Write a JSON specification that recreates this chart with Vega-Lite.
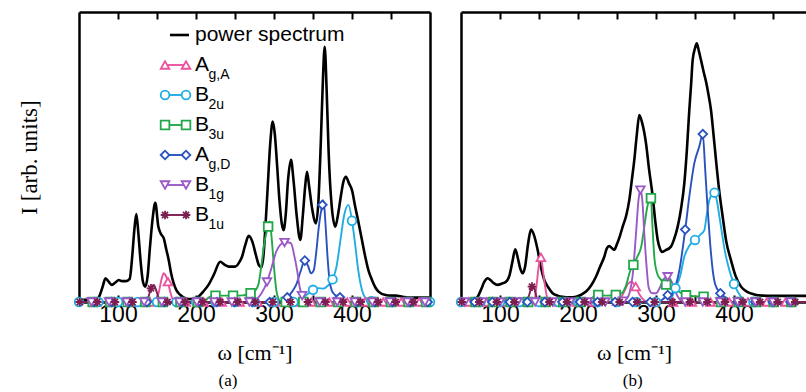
{
"$schema":"https://vega.github.io/schema/vega-lite/v6.json",
"background":"white",
"padding":{"left":18,"top":11,"right":0,"bottom":0},
"spacing":31,
"bounds":"flush",
"config":{"view":{"stroke":null},"axis":{"domainColor":"black","domainWidth":2.5,"tickColor":"black","tickWidth":2,"grid":false,"labelFont":"Liberation Sans","labelFontSize":23,"labelColor":"black","titleFont":"Liberation Serif","titleFontSize":22,"titleFontWeight":"normal","titleColor":"black"}},
"datasets":{
"legend":[
{"series":"power spectrum","main":"power spectrum","sub":""},
{"series":"Ag,A","main":"A","sub":"g,A"},
{"series":"B2u","main":"B","sub":"2u"},
{"series":"B3u","main":"B","sub":"3u"},
{"series":"Ag,D","main":"A","sub":"g,D"},
{"series":"B1g","main":"B","sub":"1g"},
{"series":"B1u","main":"B","sub":"1u"}],
"lines_a":[
{"series":"power spectrum","w":50,"I":0.8},{"series":"power spectrum","w":60,"I":0.8},{"series":"power spectrum","w":70,"I":0.9},{"series":"power spectrum","w":75,"I":1.5},{"series":"power spectrum","w":80,"I":5},{"series":"power spectrum","w":84,"I":8.2},{"series":"power spectrum","w":88,"I":7},{"series":"power spectrum","w":92,"I":5.9},{"series":"power spectrum","w":97,"I":6.8},{"series":"power spectrum","w":101,"I":7.6},{"series":"power spectrum","w":105,"I":7.2},{"series":"power spectrum","w":110,"I":7.2},{"series":"power spectrum","w":115,"I":8},{"series":"power spectrum","w":118,"I":15},{"series":"power spectrum","w":121,"I":25},{"series":"power spectrum","w":123.5,"I":30.3},{"series":"power spectrum","w":126,"I":24},{"series":"power spectrum","w":129,"I":14},{"series":"power spectrum","w":132,"I":7},{"series":"power spectrum","w":135,"I":5.3},{"series":"power spectrum","w":138,"I":9},{"series":"power spectrum","w":141,"I":19},{"series":"power spectrum","w":144.5,"I":29},{"series":"power spectrum","w":147.8,"I":34.2},{"series":"power spectrum","w":151.7,"I":26},{"series":"power spectrum","w":155,"I":23.5},{"series":"power spectrum","w":158.6,"I":22},{"series":"power spectrum","w":162,"I":18},{"series":"power spectrum","w":165,"I":14.5},{"series":"power spectrum","w":168,"I":10},{"series":"power spectrum","w":171.4,"I":6.4},{"series":"power spectrum","w":175,"I":4},{"series":"power spectrum","w":180,"I":2.4},{"series":"power spectrum","w":186,"I":1.3},{"series":"power spectrum","w":191,"I":1},{"series":"power spectrum","w":197,"I":1.2},{"series":"power spectrum","w":203,"I":1.8},{"series":"power spectrum","w":209,"I":3.5},{"series":"power spectrum","w":216,"I":5.9},{"series":"power spectrum","w":223,"I":9.5},{"series":"power spectrum","w":231,"I":13.9},{"series":"power spectrum","w":237,"I":12.8},{"series":"power spectrum","w":242,"I":12.2},{"series":"power spectrum","w":250,"I":12.2},{"series":"power spectrum","w":255,"I":13.5},{"series":"power spectrum","w":259,"I":15.6},{"series":"power spectrum","w":263,"I":19.5},{"series":"power spectrum","w":267.6,"I":22.8},{"series":"power spectrum","w":272,"I":21},{"series":"power spectrum","w":277,"I":16},{"series":"power spectrum","w":281,"I":12.5},{"series":"power spectrum","w":284,"I":12},{"series":"power spectrum","w":286.5,"I":16},{"series":"power spectrum","w":289,"I":26},{"series":"power spectrum","w":292,"I":40},{"series":"power spectrum","w":295,"I":54},{"series":"power spectrum","w":298.3,"I":62.2},{"series":"power spectrum","w":301,"I":58},{"series":"power spectrum","w":304,"I":47},{"series":"power spectrum","w":307,"I":35},{"series":"power spectrum","w":310,"I":27},{"series":"power spectrum","w":312.4,"I":24.8},{"series":"power spectrum","w":315,"I":30},{"series":"power spectrum","w":318,"I":42},{"series":"power spectrum","w":321.8,"I":49},{"series":"power spectrum","w":325,"I":42},{"series":"power spectrum","w":329,"I":30},{"series":"power spectrum","w":333.7,"I":21.4},{"series":"power spectrum","w":337,"I":30},{"series":"power spectrum","w":340,"I":40},{"series":"power spectrum","w":342.3,"I":44.9},{"series":"power spectrum","w":345,"I":40},{"series":"power spectrum","w":349,"I":32},{"series":"power spectrum","w":353.8,"I":27.1},{"series":"power spectrum","w":357,"I":35},{"series":"power spectrum","w":360,"I":55},{"series":"power spectrum","w":362.5,"I":75},{"series":"power spectrum","w":365,"I":88},{"series":"power spectrum","w":367.5,"I":73},{"series":"power spectrum","w":370,"I":52},{"series":"power spectrum","w":374,"I":33},{"series":"power spectrum","w":378.6,"I":26},{"series":"power spectrum","w":382,"I":30},{"series":"power spectrum","w":386,"I":37},{"series":"power spectrum","w":389,"I":41.5},{"series":"power spectrum","w":392.3,"I":43.2},{"series":"power spectrum","w":396,"I":41},{"series":"power spectrum","w":400,"I":38.6},{"series":"power spectrum","w":404,"I":33},{"series":"power spectrum","w":408.6,"I":27.1},{"series":"power spectrum","w":413,"I":21},{"series":"power spectrum","w":417,"I":15.6},{"series":"power spectrum","w":421,"I":11},{"series":"power spectrum","w":425.6,"I":7.6},{"series":"power spectrum","w":430,"I":5},{"series":"power spectrum","w":434,"I":3.6},{"series":"power spectrum","w":443,"I":2.4},{"series":"power spectrum","w":450,"I":2.2},{"series":"power spectrum","w":456,"I":2.2},{"series":"power spectrum","w":465,"I":1.8},{"series":"power spectrum","w":473,"I":1.5},{"series":"power spectrum","w":485,"I":1.5},{"series":"power spectrum","w":500,"I":1.5},
{"series":"Ag,A","w":50,"I":0},{"series":"Ag,A","w":140,"I":0},{"series":"Ag,A","w":148,"I":0.5},{"series":"Ag,A","w":152,"I":3},{"series":"Ag,A","w":155.5,"I":7.5},{"series":"Ag,A","w":158.6,"I":9.9},{"series":"Ag,A","w":161,"I":9.2},{"series":"Ag,A","w":164,"I":7},{"series":"Ag,A","w":167,"I":3.5},{"series":"Ag,A","w":170,"I":1},{"series":"Ag,A","w":174,"I":0},{"series":"Ag,A","w":500,"I":0},
{"series":"B2u","w":50,"I":0},{"series":"B2u","w":325,"I":0},{"series":"B2u","w":335,"I":1},{"series":"B2u","w":342,"I":2.5},{"series":"B2u","w":350,"I":4.2},{"series":"B2u","w":357,"I":4.8},{"series":"B2u","w":363,"I":4.6},{"series":"B2u","w":369,"I":5.6},{"series":"B2u","w":375,"I":7.8},{"series":"B2u","w":380,"I":12},{"series":"B2u","w":385,"I":21},{"series":"B2u","w":390,"I":30},{"series":"B2u","w":395.5,"I":33.5},{"series":"B2u","w":400,"I":28},{"series":"B2u","w":404,"I":20},{"series":"B2u","w":408,"I":11},{"series":"B2u","w":412,"I":5},{"series":"B2u","w":417,"I":1.5},{"series":"B2u","w":425,"I":0.3},{"series":"B2u","w":432,"I":0},{"series":"B2u","w":500,"I":0},
{"series":"B3u","w":50,"I":0},{"series":"B3u","w":210,"I":0},{"series":"B3u","w":216,"I":1.5},{"series":"B3u","w":222,"I":2.1},{"series":"B3u","w":225,"I":2.2},{"series":"B3u","w":247.5,"I":2.2},{"series":"B3u","w":260,"I":2.3},{"series":"B3u","w":265,"I":2.6},{"series":"B3u","w":270,"I":3},{"series":"B3u","w":276,"I":4},{"series":"B3u","w":280,"I":6},{"series":"B3u","w":284,"I":13},{"series":"B3u","w":288,"I":21},{"series":"B3u","w":292.5,"I":26},{"series":"B3u","w":294.5,"I":27.8},{"series":"B3u","w":297,"I":22},{"series":"B3u","w":300,"I":12},{"series":"B3u","w":303,"I":4},{"series":"B3u","w":306,"I":1},{"series":"B3u","w":310,"I":0},{"series":"B3u","w":500,"I":0},
{"series":"Ag,D","w":50,"I":0},{"series":"Ag,D","w":305,"I":0},{"series":"Ag,D","w":311,"I":0.5},{"series":"Ag,D","w":317,"I":1.6},{"series":"Ag,D","w":323,"I":3.5},{"series":"Ag,D","w":328.5,"I":6},{"series":"Ag,D","w":334,"I":10.5},{"series":"Ag,D","w":339.5,"I":14.3},{"series":"Ag,D","w":343.5,"I":12.5},{"series":"Ag,D","w":347.5,"I":9.9},{"series":"Ag,D","w":351,"I":11},{"series":"Ag,D","w":354,"I":16.8},{"series":"Ag,D","w":357.5,"I":26},{"series":"Ag,D","w":362,"I":33.5},{"series":"Ag,D","w":363.5,"I":35},{"series":"Ag,D","w":366,"I":27},{"series":"Ag,D","w":368.5,"I":16},{"series":"Ag,D","w":371,"I":8},{"series":"Ag,D","w":374,"I":4},{"series":"Ag,D","w":378,"I":2.5},{"series":"Ag,D","w":384.5,"I":1.6},{"series":"Ag,D","w":390,"I":0.5},{"series":"Ag,D","w":396,"I":0},{"series":"Ag,D","w":500,"I":0},
{"series":"B1g","w":50,"I":0},{"series":"B1g","w":270,"I":0},{"series":"B1g","w":278,"I":1},{"series":"B1g","w":284,"I":3},{"series":"B1g","w":291,"I":6.9},{"series":"B1g","w":297,"I":12},{"series":"B1g","w":303,"I":17.5},{"series":"B1g","w":308,"I":19.7},{"series":"B1g","w":313.5,"I":20.5},{"series":"B1g","w":319,"I":20.5},{"series":"B1g","w":322,"I":20.2},{"series":"B1g","w":326,"I":16},{"series":"B1g","w":329.6,"I":11},{"series":"B1g","w":333,"I":5},{"series":"B1g","w":336,"I":2.2},{"series":"B1g","w":340,"I":0.5},{"series":"B1g","w":345,"I":0},{"series":"B1g","w":500,"I":0},
{"series":"B1u","w":50,"I":0},{"series":"B1u","w":135,"I":0},{"series":"B1u","w":139,"I":1.8},{"series":"B1u","w":142.3,"I":4.7},{"series":"B1u","w":145.8,"I":5.9},{"series":"B1u","w":149,"I":4},{"series":"B1u","w":152,"I":1.5},{"series":"B1u","w":156,"I":0},{"series":"B1u","w":500,"I":0}],
"marks_a":[
{"series":"Ag,A","w":72,"I":0},{"series":"Ag,A","w":95,"I":0},{"series":"Ag,A","w":118,"I":0},{"series":"Ag,A","w":141,"I":0},{"series":"Ag,A","w":164,"I":7},{"series":"Ag,A","w":187,"I":0},{"series":"Ag,A","w":210,"I":0},{"series":"Ag,A","w":233,"I":0},{"series":"Ag,A","w":256,"I":0},{"series":"Ag,A","w":279,"I":0},{"series":"Ag,A","w":302,"I":0},{"series":"Ag,A","w":325,"I":0},{"series":"Ag,A","w":348,"I":0},{"series":"Ag,A","w":371,"I":0},{"series":"Ag,A","w":394,"I":0},{"series":"Ag,A","w":417,"I":0},{"series":"Ag,A","w":440,"I":0},{"series":"Ag,A","w":463,"I":0},{"series":"Ag,A","w":486,"I":0},
{"series":"B2u","w":50,"I":0},{"series":"B2u","w":75,"I":0},{"series":"B2u","w":100,"I":0},{"series":"B2u","w":125,"I":0},{"series":"B2u","w":150,"I":0},{"series":"B2u","w":175,"I":0},{"series":"B2u","w":200,"I":0},{"series":"B2u","w":225,"I":0},{"series":"B2u","w":250,"I":0},{"series":"B2u","w":275,"I":0},{"series":"B2u","w":300,"I":0},{"series":"B2u","w":325,"I":0},{"series":"B2u","w":350,"I":4.2},{"series":"B2u","w":375,"I":7.8},{"series":"B2u","w":400,"I":28},{"series":"B2u","w":425,"I":0.3},{"series":"B2u","w":450,"I":0},{"series":"B2u","w":475,"I":0},{"series":"B2u","w":500,"I":0},
{"series":"B3u","w":67.5,"I":0},{"series":"B3u","w":90,"I":0},{"series":"B3u","w":112.5,"I":0},{"series":"B3u","w":135,"I":0},{"series":"B3u","w":157.5,"I":0},{"series":"B3u","w":180,"I":0},{"series":"B3u","w":202.5,"I":0},{"series":"B3u","w":225,"I":2.2},{"series":"B3u","w":247.5,"I":2.2},{"series":"B3u","w":270,"I":3},{"series":"B3u","w":292.5,"I":26},{"series":"B3u","w":315,"I":0},{"series":"B3u","w":337.5,"I":0},{"series":"B3u","w":360,"I":0},{"series":"B3u","w":382.5,"I":0},{"series":"B3u","w":405,"I":0},{"series":"B3u","w":427.5,"I":0},{"series":"B3u","w":450,"I":0},{"series":"B3u","w":472.5,"I":0},{"series":"B3u","w":495,"I":0},
{"series":"Ag,D","w":69.5,"I":0},{"series":"Ag,D","w":92,"I":0},{"series":"Ag,D","w":114.5,"I":0},{"series":"Ag,D","w":137,"I":0},{"series":"Ag,D","w":159.5,"I":0},{"series":"Ag,D","w":182,"I":0},{"series":"Ag,D","w":204.5,"I":0},{"series":"Ag,D","w":227,"I":0},{"series":"Ag,D","w":249.5,"I":0},{"series":"Ag,D","w":272,"I":0},{"series":"Ag,D","w":294.5,"I":0},{"series":"Ag,D","w":317,"I":1.6},{"series":"Ag,D","w":339.5,"I":14.3},{"series":"Ag,D","w":362,"I":33.5},{"series":"Ag,D","w":384.5,"I":1.6},{"series":"Ag,D","w":407,"I":0},{"series":"Ag,D","w":429.5,"I":0},{"series":"Ag,D","w":452,"I":0},{"series":"Ag,D","w":474.5,"I":0},{"series":"Ag,D","w":497,"I":0},
{"series":"B1g","w":66,"I":0},{"series":"B1g","w":88.5,"I":0},{"series":"B1g","w":111,"I":0},{"series":"B1g","w":133.5,"I":0},{"series":"B1g","w":156,"I":0},{"series":"B1g","w":178.5,"I":0},{"series":"B1g","w":201,"I":0},{"series":"B1g","w":223.5,"I":0},{"series":"B1g","w":246,"I":0},{"series":"B1g","w":268.5,"I":0},{"series":"B1g","w":291,"I":6.9},{"series":"B1g","w":313.5,"I":20.5},{"series":"B1g","w":336,"I":2.2},{"series":"B1g","w":358.5,"I":0},{"series":"B1g","w":381,"I":0},{"series":"B1g","w":403.5,"I":0},{"series":"B1g","w":426,"I":0},{"series":"B1g","w":448.5,"I":0},{"series":"B1g","w":471,"I":0},{"series":"B1g","w":493.5,"I":0},
{"series":"B1u","w":51,"I":0},{"series":"B1u","w":73.5,"I":0},{"series":"B1u","w":96,"I":0},{"series":"B1u","w":118.5,"I":0},{"series":"B1u","w":142.3,"I":4.7},{"series":"B1u","w":163.5,"I":0},{"series":"B1u","w":186,"I":0},{"series":"B1u","w":208.5,"I":0},{"series":"B1u","w":231,"I":0},{"series":"B1u","w":253.5,"I":0},{"series":"B1u","w":276,"I":0},{"series":"B1u","w":298.5,"I":0},{"series":"B1u","w":321,"I":0},{"series":"B1u","w":343.5,"I":0},{"series":"B1u","w":366,"I":0},{"series":"B1u","w":388.5,"I":0},{"series":"B1u","w":411,"I":0},{"series":"B1u","w":433.5,"I":0},{"series":"B1u","w":456,"I":0},{"series":"B1u","w":478.5,"I":0}],
"lines_b":[
{"series":"power spectrum","w":50,"I":0.8},{"series":"power spectrum","w":60,"I":0.8},{"series":"power spectrum","w":68,"I":1},{"series":"power spectrum","w":71.4,"I":1.8},{"series":"power spectrum","w":76,"I":4.5},{"series":"power spectrum","w":80,"I":7},{"series":"power spectrum","w":84.2,"I":8.2},{"series":"power spectrum","w":88,"I":7.5},{"series":"power spectrum","w":92,"I":6.5},{"series":"power spectrum","w":97,"I":5.9},{"series":"power spectrum","w":102,"I":6.3},{"series":"power spectrum","w":107.7,"I":7},{"series":"power spectrum","w":112,"I":9},{"series":"power spectrum","w":116,"I":14},{"series":"power spectrum","w":119.6,"I":18.2},{"series":"power spectrum","w":123,"I":15},{"series":"power spectrum","w":126,"I":11.5},{"series":"power spectrum","w":129,"I":9.9},{"series":"power spectrum","w":132,"I":12},{"series":"power spectrum","w":136,"I":20},{"series":"power spectrum","w":139.7,"I":25},{"series":"power spectrum","w":143,"I":23.5},{"series":"power spectrum","w":148.3,"I":17.9},{"series":"power spectrum","w":152,"I":12.5},{"series":"power spectrum","w":156.8,"I":7.6},{"series":"power spectrum","w":162,"I":5},{"series":"power spectrum","w":167.5,"I":3},{"series":"power spectrum","w":174,"I":2.2},{"series":"power spectrum","w":180,"I":1.8},{"series":"power spectrum","w":190,"I":1.6},{"series":"power spectrum","w":197.4,"I":1.8},{"series":"power spectrum","w":204,"I":2.5},{"series":"power spectrum","w":210.3,"I":3.6},{"series":"power spectrum","w":217,"I":5.8},{"series":"power spectrum","w":223,"I":8.7},{"series":"power spectrum","w":228,"I":12},{"series":"power spectrum","w":233.7,"I":15.6},{"series":"power spectrum","w":237,"I":18.5},{"series":"power spectrum","w":240,"I":19.3},{"series":"power spectrum","w":243,"I":18.7},{"series":"power spectrum","w":246.4,"I":18},{"series":"power spectrum","w":250,"I":20},{"series":"power spectrum","w":254,"I":23},{"series":"power spectrum","w":257.3,"I":26},{"series":"power spectrum","w":262,"I":30},{"series":"power spectrum","w":265.8,"I":35.2},{"series":"power spectrum","w":269,"I":42},{"series":"power spectrum","w":272.2,"I":49},{"series":"power spectrum","w":275.5,"I":58},{"series":"power spectrum","w":278.6,"I":64.5},{"series":"power spectrum","w":282,"I":62},{"series":"power spectrum","w":287.2,"I":54.7},{"series":"power spectrum","w":291,"I":46},{"series":"power spectrum","w":295.8,"I":36.3},{"series":"power spectrum","w":299,"I":28},{"series":"power spectrum","w":302.2,"I":21.4},{"series":"power spectrum","w":305,"I":18.5},{"series":"power spectrum","w":307.3,"I":17.3},{"series":"power spectrum","w":312,"I":17.8},{"series":"power spectrum","w":319.2,"I":19.1},{"series":"power spectrum","w":323,"I":21.5},{"series":"power spectrum","w":327.8,"I":26},{"series":"power spectrum","w":332,"I":32},{"series":"power spectrum","w":336.3,"I":40.9},{"series":"power spectrum","w":339.5,"I":52},{"series":"power spectrum","w":342.7,"I":66.2},{"series":"power spectrum","w":345,"I":75},{"series":"power spectrum","w":347,"I":83.4},{"series":"power spectrum","w":350,"I":87.5},{"series":"power spectrum","w":352.2,"I":89.2},{"series":"power spectrum","w":355,"I":86.5},{"series":"power spectrum","w":357.7,"I":83.4},{"series":"power spectrum","w":361,"I":79.5},{"series":"power spectrum","w":364.1,"I":76},{"series":"power spectrum","w":367,"I":72},{"series":"power spectrum","w":370.5,"I":66.2},{"series":"power spectrum","w":374,"I":57},{"series":"power spectrum","w":376.9,"I":49},{"series":"power spectrum","w":381,"I":38.5},{"series":"power spectrum","w":385.5,"I":29.4},{"series":"power spectrum","w":390,"I":21},{"series":"power spectrum","w":396,"I":14.5},{"series":"power spectrum","w":402,"I":9},{"series":"power spectrum","w":409,"I":5.3},{"series":"power spectrum","w":417,"I":3.5},{"series":"power spectrum","w":426,"I":2.6},{"series":"power spectrum","w":437,"I":2.2},{"series":"power spectrum","w":447.4,"I":2.1},{"series":"power spectrum","w":470,"I":2.1},{"series":"power spectrum","w":493.6,"I":2.1},
{"series":"Ag,A","w":50,"I":0},{"series":"Ag,A","w":141,"I":0},{"series":"Ag,A","w":144.5,"I":1},{"series":"Ag,A","w":147,"I":6},{"series":"Ag,A","w":149.5,"I":12},{"series":"Ag,A","w":152.5,"I":15.4},{"series":"Ag,A","w":155,"I":11},{"series":"Ag,A","w":157.5,"I":6},{"series":"Ag,A","w":160,"I":2},{"series":"Ag,A","w":163,"I":0.3},{"series":"Ag,A","w":166,"I":0},{"series":"Ag,A","w":240,"I":0},{"series":"Ag,A","w":250,"I":0.3},{"series":"Ag,A","w":255,"I":1.5},{"series":"Ag,A","w":260,"I":4},{"series":"Ag,A","w":264,"I":6.2},{"series":"Ag,A","w":268,"I":7},{"series":"Ag,A","w":274,"I":5.3},{"series":"Ag,A","w":279,"I":2.5},{"series":"Ag,A","w":284,"I":0.8},{"series":"Ag,A","w":290,"I":0},{"series":"Ag,A","w":493.6,"I":0},
{"series":"B2u","w":50,"I":0},{"series":"B2u","w":315,"I":0},{"series":"B2u","w":320,"I":1.5},{"series":"B2u","w":325,"I":4.8},{"series":"B2u","w":331,"I":9},{"series":"B2u","w":336.3,"I":15.6},{"series":"B2u","w":343,"I":19.5},{"series":"B2u","w":350,"I":21.4},{"series":"B2u","w":356,"I":23},{"series":"B2u","w":362,"I":24.8},{"series":"B2u","w":365,"I":30},{"series":"B2u","w":368.4,"I":35.2},{"series":"B2u","w":372,"I":37.2},{"series":"B2u","w":375,"I":37.7},{"series":"B2u","w":378,"I":35},{"series":"B2u","w":381,"I":30},{"series":"B2u","w":383.3,"I":26},{"series":"B2u","w":388,"I":18},{"series":"B2u","w":394,"I":11},{"series":"B2u","w":400,"I":6.2},{"series":"B2u","w":405,"I":3.5},{"series":"B2u","w":410,"I":1.5},{"series":"B2u","w":418,"I":0.3},{"series":"B2u","w":425,"I":0},{"series":"B2u","w":493.6,"I":0},
{"series":"B3u","w":50,"I":0},{"series":"B3u","w":212,"I":0},{"series":"B3u","w":218,"I":1.5},{"series":"B3u","w":226,"I":2.4},{"series":"B3u","w":238,"I":2.2},{"series":"B3u","w":248.5,"I":2.4},{"series":"B3u","w":256,"I":3},{"series":"B3u","w":262,"I":6},{"series":"B3u","w":266,"I":10},{"series":"B3u","w":271,"I":12.8},{"series":"B3u","w":276,"I":15.6},{"series":"B3u","w":281,"I":19},{"series":"B3u","w":285,"I":26},{"series":"B3u","w":289,"I":33},{"series":"B3u","w":293.5,"I":35.8},{"series":"B3u","w":295.5,"I":26},{"series":"B3u","w":298,"I":15},{"series":"B3u","w":302,"I":9.5},{"series":"B3u","w":306,"I":7.8},{"series":"B3u","w":313,"I":6},{"series":"B3u","w":320,"I":4.5},{"series":"B3u","w":328,"I":3.8},{"series":"B3u","w":333,"I":3},{"series":"B3u","w":338.5,"I":2.3},{"series":"B3u","w":348,"I":2},{"series":"B3u","w":361,"I":1.8},{"series":"B3u","w":367,"I":1},{"series":"B3u","w":373,"I":0},{"series":"B3u","w":493.6,"I":0},
{"series":"Ag,D","w":50,"I":0},{"series":"Ag,D","w":300,"I":0},{"series":"Ag,D","w":308,"I":0.8},{"series":"Ag,D","w":315,"I":2.4},{"series":"Ag,D","w":320,"I":2.8},{"series":"Ag,D","w":325,"I":5.5},{"series":"Ag,D","w":330,"I":11},{"series":"Ag,D","w":337.5,"I":25},{"series":"Ag,D","w":342.7,"I":36.3},{"series":"Ag,D","w":349.1,"I":47.8},{"series":"Ag,D","w":355.5,"I":53.6},{"series":"Ag,D","w":360,"I":57.9},{"series":"Ag,D","w":363,"I":46},{"series":"Ag,D","w":366.3,"I":31.7},{"series":"Ag,D","w":369.5,"I":20},{"series":"Ag,D","w":372.7,"I":11},{"series":"Ag,D","w":376,"I":6},{"series":"Ag,D","w":382.5,"I":3},{"series":"Ag,D","w":387,"I":2},{"series":"Ag,D","w":392,"I":1.2},{"series":"Ag,D","w":398,"I":0},{"series":"Ag,D","w":493.6,"I":0},
{"series":"B1g","w":50,"I":0},{"series":"B1g","w":255,"I":0},{"series":"B1g","w":262,"I":1},{"series":"B1g","w":266,"I":3},{"series":"B1g","w":270,"I":9},{"series":"B1g","w":274.4,"I":23.7},{"series":"B1g","w":277.5,"I":35},{"series":"B1g","w":280,"I":38.6},{"series":"B1g","w":282.5,"I":35},{"series":"B1g","w":285,"I":23.7},{"series":"B1g","w":288,"I":12},{"series":"B1g","w":290.6,"I":5},{"series":"B1g","w":295,"I":3},{"series":"B1g","w":300,"I":3},{"series":"B1g","w":305,"I":5},{"series":"B1g","w":310,"I":8},{"series":"B1g","w":315,"I":8.7},{"series":"B1g","w":320,"I":7},{"series":"B1g","w":325,"I":3.5},{"series":"B1g","w":330,"I":1},{"series":"B1g","w":335,"I":0},{"series":"B1g","w":493.6,"I":0},
{"series":"B1u","w":50,"I":0},{"series":"B1u","w":134,"I":0},{"series":"B1u","w":137.5,"I":2.5},{"series":"B1u","w":141,"I":5.3},{"series":"B1u","w":143.5,"I":5},{"series":"B1u","w":146.5,"I":2},{"series":"B1u","w":150,"I":0},{"series":"B1u","w":493.6,"I":0}],
"marks_b":[
{"series":"Ag,A","w":60,"I":0},{"series":"Ag,A","w":83,"I":0},{"series":"Ag,A","w":106,"I":0},{"series":"Ag,A","w":129.5,"I":0},{"series":"Ag,A","w":152.5,"I":15.4},{"series":"Ag,A","w":175.5,"I":0},{"series":"Ag,A","w":198.5,"I":0},{"series":"Ag,A","w":221.5,"I":0},{"series":"Ag,A","w":250,"I":0.3},{"series":"Ag,A","w":274,"I":5.3},{"series":"Ag,A","w":298,"I":0},{"series":"Ag,A","w":322,"I":0},{"series":"Ag,A","w":346,"I":0},{"series":"Ag,A","w":370,"I":0},{"series":"Ag,A","w":394,"I":0},{"series":"Ag,A","w":418,"I":0},{"series":"Ag,A","w":442,"I":0},{"series":"Ag,A","w":466,"I":0},
{"series":"B2u","w":50,"I":0},{"series":"B2u","w":75,"I":0},{"series":"B2u","w":100,"I":0},{"series":"B2u","w":125,"I":0},{"series":"B2u","w":150,"I":0},{"series":"B2u","w":175,"I":0},{"series":"B2u","w":200,"I":0},{"series":"B2u","w":225,"I":0},{"series":"B2u","w":250,"I":0},{"series":"B2u","w":275,"I":0},{"series":"B2u","w":300,"I":0},{"series":"B2u","w":325,"I":4.8},{"series":"B2u","w":350,"I":21.4},{"series":"B2u","w":375,"I":37.7},{"series":"B2u","w":400,"I":6.2},{"series":"B2u","w":425,"I":0},{"series":"B2u","w":450,"I":0},{"series":"B2u","w":475,"I":0},
{"series":"B3u","w":68.5,"I":0},{"series":"B3u","w":91,"I":0},{"series":"B3u","w":113.5,"I":0},{"series":"B3u","w":136,"I":0},{"series":"B3u","w":158.5,"I":0},{"series":"B3u","w":181,"I":0},{"series":"B3u","w":203.5,"I":0},{"series":"B3u","w":226,"I":2.4},{"series":"B3u","w":248.5,"I":2.4},{"series":"B3u","w":271,"I":12.8},{"series":"B3u","w":293.5,"I":35.8},{"series":"B3u","w":313,"I":6},{"series":"B3u","w":338.5,"I":2.3},{"series":"B3u","w":361,"I":1.8},{"series":"B3u","w":383.5,"I":0},{"series":"B3u","w":406,"I":0},{"series":"B3u","w":428.5,"I":0},{"series":"B3u","w":451,"I":0},{"series":"B3u","w":473.5,"I":0},
{"series":"Ag,D","w":67.5,"I":0},{"series":"Ag,D","w":90,"I":0},{"series":"Ag,D","w":112.5,"I":0},{"series":"Ag,D","w":135,"I":0},{"series":"Ag,D","w":157.5,"I":0},{"series":"Ag,D","w":180,"I":0},{"series":"Ag,D","w":202.5,"I":0},{"series":"Ag,D","w":225,"I":0},{"series":"Ag,D","w":247.5,"I":0},{"series":"Ag,D","w":270,"I":0},{"series":"Ag,D","w":292.5,"I":0},{"series":"Ag,D","w":315,"I":2.4},{"series":"Ag,D","w":337.5,"I":25},{"series":"Ag,D","w":360,"I":57.9},{"series":"Ag,D","w":382.5,"I":3},{"series":"Ag,D","w":405,"I":0},{"series":"Ag,D","w":427.5,"I":0},{"series":"Ag,D","w":450,"I":0},{"series":"Ag,D","w":472.5,"I":0},
{"series":"B1g","w":55,"I":0},{"series":"B1g","w":77.5,"I":0},{"series":"B1g","w":100,"I":0},{"series":"B1g","w":122.5,"I":0},{"series":"B1g","w":145,"I":0},{"series":"B1g","w":167.5,"I":0},{"series":"B1g","w":190,"I":0},{"series":"B1g","w":212.5,"I":0},{"series":"B1g","w":235,"I":0},{"series":"B1g","w":257.5,"I":0.3},{"series":"B1g","w":280,"I":38.6},{"series":"B1g","w":315,"I":8.7},{"series":"B1g","w":337.5,"I":0},{"series":"B1g","w":360,"I":0},{"series":"B1g","w":382.5,"I":0},{"series":"B1g","w":405,"I":0},{"series":"B1g","w":427.5,"I":0},{"series":"B1g","w":450,"I":0},{"series":"B1g","w":472.5,"I":0},
{"series":"B1u","w":51,"I":0},{"series":"B1u","w":73.5,"I":0},{"series":"B1u","w":96,"I":0},{"series":"B1u","w":118.5,"I":0},{"series":"B1u","w":141,"I":5.3},{"series":"B1u","w":163.5,"I":0},{"series":"B1u","w":186,"I":0},{"series":"B1u","w":208.5,"I":0},{"series":"B1u","w":231,"I":0},{"series":"B1u","w":253.5,"I":0},{"series":"B1u","w":276,"I":0},{"series":"B1u","w":298.5,"I":0},{"series":"B1u","w":321,"I":0},{"series":"B1u","w":343.5,"I":0},{"series":"B1u","w":366,"I":0},{"series":"B1u","w":388.5,"I":0},{"series":"B1u","w":411,"I":0},{"series":"B1u","w":433.5,"I":0},{"series":"B1u","w":456,"I":0},{"series":"B1u","w":478.5,"I":0}]
},
"hconcat":[
{
"width":351,"height":290,
"title":{"text":"(a)","orient":"bottom","anchor":"middle","frame":"bounds","font":"Liberation Serif","fontSize":17,"fontWeight":"normal","color":"black","offset":10},
"resolve":{"scale":{"y":"independent"},"axis":{"x":"independent","y":"independent"}},
"layer":[
{"data":{"name":"lines_a"},"transform":[{"filter":"datum.series === 'power spectrum'"}],
"mark":{"type":"line","interpolate":"monotone","strokeWidth":2.6,"color":"black"},
"encoding":{
"x":{"field":"w","type":"quantitative","scale":{"domain":[50,500],"nice":false,"zero":false},"axis":{"orient":"bottom","values":[100,150,200,250,300,350,400,450],"labelExpr":"datum.value % 100 === 0 ? datum.label : ''","tickSize":-7,"labelPadding":8,"labelFlush":false,"labelOverlap":false,"title":"ω [cm⁻¹]","titlePadding":16}},
"y":{"field":"I","type":"quantitative","scale":{"domain":[0,100],"nice":false},"axis":{"orient":"left","labels":false,"ticks":false,"title":"I [arb. units]","titleFontSize":23,"titlePadding":38}}}},
{"data":{"name":"lines_a"},"transform":[{"filter":"datum.series !== 'power spectrum'"}],
"mark":{"type":"line","interpolate":"monotone","strokeWidth":1.9},
"encoding":{
"x":{"field":"w","type":"quantitative","scale":{"domain":[50,500],"nice":false,"zero":false},"axis":{"orient":"top","values":[100,150,200,250,300,350,400,450],"labels":false,"tickSize":-7,"title":null}},
"y":{"field":"I","type":"quantitative","scale":{"domain":[0,100],"nice":false},"axis":{"orient":"right","labels":false,"ticks":false,"title":null}},
"color":{"field":"series","type":"nominal","legend":null,"scale":{"domain":["power spectrum","Ag,A","B2u","B3u","Ag,D","B1g","B1u"],"range":["#000000","#e9549f","#21ade3","#22a84a","#2a52be","#9b59c6","#7d1e50"]}}}},
{"data":{"name":"marks_a"},
"mark":{"type":"point","filled":false,"fill":"white","fillOpacity":1,"strokeWidth":1.8,"size":75,"opacity":1},
"encoding":{
"x":{"field":"w","type":"quantitative","scale":{"domain":[50,500],"nice":false,"zero":false},"axis":null},
"y":{"field":"I","type":"quantitative","scale":{"domain":[0,100],"nice":false},"axis":null},
"color":{"field":"series","type":"nominal","legend":null,"scale":{"domain":["power spectrum","Ag,A","B2u","B3u","Ag,D","B1g","B1u"],"range":["#000000","#e9549f","#21ade3","#22a84a","#2a52be","#9b59c6","#7d1e50"]}},
"shape":{"field":"series","type":"nominal","legend":null,"scale":{"domain":["Ag,A","B2u","B3u","Ag,D","B1g","B1u"],"range":["triangle-up","circle","square","diamond","triangle-down","M-1,0L1,0M0,-1L0,1M-0.7,-0.7L0.7,0.7M-0.7,0.7L0.7,-0.7"]}}}},
{"data":{"name":"legend"},
"layer":[
{"transform":[{"filter":"datum.series === 'power spectrum'"}],"mark":{"type":"rule","strokeWidth":2.6,"color":"black"},
"encoding":{"x":{"datum":166.7,"type":"quantitative","scale":{"domain":[50,500],"nice":false,"zero":false},"axis":null},"x2":{"datum":191},
"y":{"field":"series","type":"nominal","axis":null,"scale":{"type":"point","domain":["power spectrum","Ag,A","B2u","B3u","Ag,D","B1g","B1u"],"range":[23,203],"padding":0}}}},
{"transform":[{"filter":"datum.series !== 'power spectrum'"}],"mark":{"type":"rule","strokeWidth":1.9},
"encoding":{"x":{"datum":160.3,"type":"quantitative","scale":{"domain":[50,500],"nice":false,"zero":false},"axis":null},"x2":{"datum":187.2},
"y":{"field":"series","type":"nominal","axis":null,"scale":{"type":"point","domain":["power spectrum","Ag,A","B2u","B3u","Ag,D","B1g","B1u"],"range":[23,203],"padding":0}},
"color":{"field":"series","type":"nominal","legend":null,"scale":{"domain":["power spectrum","Ag,A","B2u","B3u","Ag,D","B1g","B1u"],"range":["#000000","#e9549f","#21ade3","#22a84a","#2a52be","#9b59c6","#7d1e50"]}}}},
{"transform":[{"filter":"datum.series !== 'power spectrum'"}],"mark":{"type":"point","filled":false,"fill":"white","fillOpacity":1,"strokeWidth":1.8,"size":75,"opacity":1},
"encoding":{"x":{"datum":160.3,"type":"quantitative","scale":{"domain":[50,500],"nice":false,"zero":false},"axis":null},
"y":{"field":"series","type":"nominal","axis":null,"scale":{"type":"point","domain":["power spectrum","Ag,A","B2u","B3u","Ag,D","B1g","B1u"],"range":[23,203],"padding":0}},
"color":{"field":"series","type":"nominal","legend":null,"scale":{"domain":["power spectrum","Ag,A","B2u","B3u","Ag,D","B1g","B1u"],"range":["#000000","#e9549f","#21ade3","#22a84a","#2a52be","#9b59c6","#7d1e50"]}},
"shape":{"field":"series","type":"nominal","legend":null,"scale":{"domain":["Ag,A","B2u","B3u","Ag,D","B1g","B1u"],"range":["triangle-up","circle","square","diamond","triangle-down","M-1,0L1,0M0,-1L0,1M-0.7,-0.7L0.7,0.7M-0.7,0.7L0.7,-0.7"]}}}},
{"transform":[{"filter":"datum.series !== 'power spectrum'"}],"mark":{"type":"point","filled":false,"fill":"white","fillOpacity":1,"strokeWidth":1.8,"size":75,"opacity":1},
"encoding":{"x":{"datum":187.2,"type":"quantitative","scale":{"domain":[50,500],"nice":false,"zero":false},"axis":null},
"y":{"field":"series","type":"nominal","axis":null,"scale":{"type":"point","domain":["power spectrum","Ag,A","B2u","B3u","Ag,D","B1g","B1u"],"range":[23,203],"padding":0}},
"color":{"field":"series","type":"nominal","legend":null,"scale":{"domain":["power spectrum","Ag,A","B2u","B3u","Ag,D","B1g","B1u"],"range":["#000000","#e9549f","#21ade3","#22a84a","#2a52be","#9b59c6","#7d1e50"]}},
"shape":{"field":"series","type":"nominal","legend":null,"scale":{"domain":["Ag,A","B2u","B3u","Ag,D","B1g","B1u"],"range":["triangle-up","circle","square","diamond","triangle-down","M-1,0L1,0M0,-1L0,1M-0.7,-0.7L0.7,0.7M-0.7,0.7L0.7,-0.7"]}}}},
{"mark":{"type":"text","align":"left","baseline":"middle","font":"Liberation Sans","fontSize":21,"color":"black"},
"encoding":{"x":{"datum":198.7,"type":"quantitative","scale":{"domain":[50,500],"nice":false,"zero":false},"axis":null},
"y":{"field":"series","type":"nominal","axis":null,"scale":{"type":"point","domain":["power spectrum","Ag,A","B2u","B3u","Ag,D","B1g","B1u"],"range":[23,203],"padding":0}},
"text":{"field":"main"}}},
{"transform":[{"filter":"datum.sub !== ''"}],"mark":{"type":"text","align":"left","baseline":"middle","font":"Liberation Sans","fontSize":14,"dx":13.5,"dy":10,"color":"black"},
"encoding":{"x":{"datum":198.7,"type":"quantitative","scale":{"domain":[50,500],"nice":false,"zero":false},"axis":null},
"y":{"field":"series","type":"nominal","axis":null,"scale":{"type":"point","domain":["power spectrum","Ag,A","B2u","B3u","Ag,D","B1g","B1u"],"range":[23,203],"padding":0}},
"text":{"field":"sub"}}}
]}
]
},
{
"width":346,"height":290,
"title":{"text":"(b)","orient":"bottom","anchor":"middle","frame":"bounds","font":"Liberation Serif","fontSize":17,"fontWeight":"normal","color":"black","offset":10},
"resolve":{"axis":{"x":"independent","y":"independent"}},
"layer":[
{"data":{"name":"lines_b"},"transform":[{"filter":"datum.series === 'power spectrum'"}],
"mark":{"type":"line","interpolate":"monotone","strokeWidth":2.6,"color":"black"},
"encoding":{
"x":{"field":"w","type":"quantitative","scale":{"domain":[50,493.6],"nice":false,"zero":false},"axis":{"orient":"bottom","values":[100,150,200,250,300,350,400,450],"labelExpr":"datum.value % 100 === 0 ? datum.label : ''","tickSize":-7,"labelPadding":8,"labelFlush":false,"labelOverlap":false,"title":"ω [cm⁻¹]","titlePadding":16}},
"y":{"field":"I","type":"quantitative","scale":{"domain":[0,100],"nice":false},"axis":{"orient":"left","labels":false,"ticks":false,"title":null}}}},
{"data":{"name":"lines_b"},"transform":[{"filter":"datum.series !== 'power spectrum'"}],
"mark":{"type":"line","interpolate":"monotone","strokeWidth":1.9},
"encoding":{
"x":{"field":"w","type":"quantitative","scale":{"domain":[50,493.6],"nice":false,"zero":false},"axis":{"orient":"top","values":[100,150,200,250,300,350,400,450],"labels":false,"tickSize":-7,"title":null}},
"y":{"field":"I","type":"quantitative","scale":{"domain":[0,100],"nice":false},"axis":null},
"color":{"field":"series","type":"nominal","legend":null,"scale":{"domain":["power spectrum","Ag,A","B2u","B3u","Ag,D","B1g","B1u"],"range":["#000000","#e9549f","#21ade3","#22a84a","#2a52be","#9b59c6","#7d1e50"]}}}},
{"data":{"name":"marks_b"},
"mark":{"type":"point","filled":false,"fill":"white","fillOpacity":1,"strokeWidth":1.8,"size":75,"opacity":1},
"encoding":{
"x":{"field":"w","type":"quantitative","scale":{"domain":[50,493.6],"nice":false,"zero":false},"axis":null},
"y":{"field":"I","type":"quantitative","scale":{"domain":[0,100],"nice":false},"axis":null},
"color":{"field":"series","type":"nominal","legend":null,"scale":{"domain":["power spectrum","Ag,A","B2u","B3u","Ag,D","B1g","B1u"],"range":["#000000","#e9549f","#21ade3","#22a84a","#2a52be","#9b59c6","#7d1e50"]}},
"shape":{"field":"series","type":"nominal","legend":null,"scale":{"domain":["Ag,A","B2u","B3u","Ag,D","B1g","B1u"],"range":["triangle-up","circle","square","diamond","triangle-down","M-1,0L1,0M0,-1L0,1M-0.7,-0.7L0.7,0.7M-0.7,0.7L0.7,-0.7"]}}}}
]
}
]
}
